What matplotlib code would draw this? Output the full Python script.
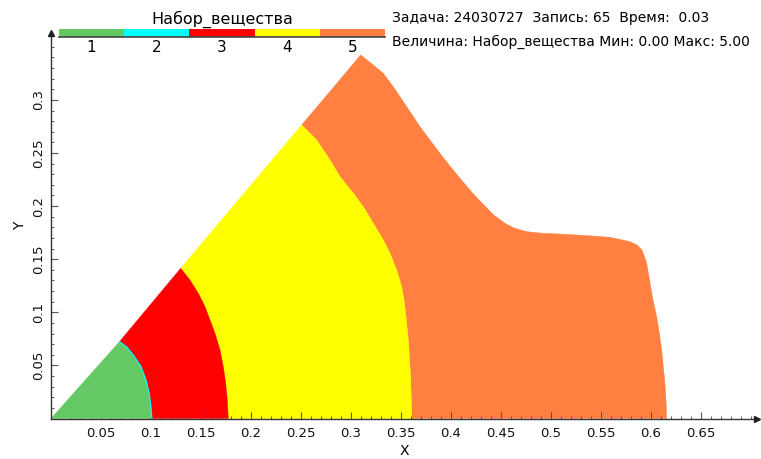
import matplotlib
matplotlib.use("Agg")
import matplotlib.pyplot as plt
from matplotlib.patches import Polygon
from matplotlib.ticker import MultipleLocator

# ---- data ----
materials = ["1", "2", "3", "4", "5"]
material_colors = ["#64C864", "#00FFFF", "#FF0000", "#FFFF00", "#FF8040"]

# boundary of material 1 (green) / 2 (cyan thin layer)
green_x = [0.068, 0.0757, 0.0823, 0.089, 0.094, 0.0973, 0.099, 0.100]
green_y = [0.0718, 0.0661, 0.0582, 0.0488, 0.0363, 0.0237, 0.0111, 0.0]
# boundary of material 3 (red) / 4 (yellow)
red_x = [0.1297, 0.139, 0.1473, 0.154, 0.159, 0.164, 0.169, 0.1723,
         0.1747, 0.1763, 0.1773]
red_y = [0.1414, 0.1304, 0.1179, 0.1053, 0.0927, 0.0802, 0.0645, 0.0488,
         0.0331, 0.0174, 0.0]
# boundary of material 4 (yellow) / 5 (orange)
yellow_x = [0.2507, 0.2657, 0.279, 0.289, 0.3023, 0.3123, 0.3223, 0.3323,
            0.339, 0.3457, 0.3507, 0.353, 0.355, 0.3573, 0.359, 0.360, 0.3607]
yellow_y = [0.2764, 0.2622, 0.2434, 0.2277, 0.2121, 0.1994, 0.1838, 0.1681,
            0.1556, 0.1398, 0.1241, 0.1116, 0.0959, 0.0739, 0.0488, 0.0268, 0.0]
# outer boundary of material 5 (orange)
outer_x = [0.3097, 0.3223, 0.3323, 0.3423, 0.3557, 0.369, 0.379, 0.389,
           0.3998, 0.4104, 0.4216, 0.4319, 0.4428, 0.4535, 0.463, 0.476, 0.492,
           0.509, 0.526, 0.542, 0.559, 0.569, 0.579, 0.586, 0.591, 0.594,
           0.5957, 0.599, 0.602, 0.6057, 0.6083, 0.6107, 0.6123, 0.614,
           0.615, 0.6157]
outer_y = [0.3423, 0.3329, 0.325, 0.3124, 0.2936, 0.2748, 0.2622, 0.2497,
           0.2368, 0.2246, 0.2123, 0.2020, 0.1916, 0.1841, 0.1794, 0.1759,
           0.1744, 0.1737, 0.1728, 0.1718, 0.1706, 0.1687, 0.1665, 0.1634,
           0.1587, 0.1511, 0.1464, 0.1276, 0.1116, 0.0959, 0.0805, 0.0645,
           0.0488, 0.0334, 0.0174, 0.0]

x_ticks = [0.05, 0.1, 0.15, 0.2, 0.25, 0.3, 0.35, 0.4, 0.45, 0.5, 0.55, 0.6, 0.65]
x_tick_labels = ["0.05", "0.1", "0.15", "0.2", "0.25", "0.3", "0.35", "0.4",
                 "0.45", "0.5", "0.55", "0.6", "0.65"]
y_ticks = [0.05, 0.1, 0.15, 0.2, 0.25, 0.3]
y_tick_labels = ["0.05", "0.1", "0.15", "0.2", "0.25", "0.3"]

info_line1 = "Задача: 24030727  Запись: 65  Время:  0.03"
info_line2 = "Величина: Набор_вещества Мин: 0.00 Макс: 5.00"
bar_title = "Набор_вещества"

plt.rcParams['font.family'] = ['DejaVu Sans']

W, H = 761, 459
fig = plt.figure(figsize=(W / 100, H / 100), dpi=100)
ax = fig.add_axes([51 / W, 40.5 / H, 706 / W, 385.5 / H])
ax.set_xlim(0, 0.706)
ax.set_ylim(0, 0.363)


def ring(inner_x, inner_y, outer_bx, outer_by):
    pts = list(zip(outer_bx, outer_by)) + list(zip(inner_x[::-1], inner_y[::-1]))
    return pts


def add(pts, color, z):
    ax.add_patch(Polygon(pts, closed=True, facecolor=color, edgecolor=color,
                         lw=0.3, zorder=z))


add(ring(yellow_x, yellow_y, outer_x, outer_y), material_colors[4], 1)
add(ring(red_x, red_y, yellow_x, yellow_y), material_colors[3], 1)
add(ring(green_x, green_y, red_x, red_y), material_colors[2], 1)
ax.plot(green_x, green_y, color=material_colors[1], lw=2.2, zorder=2,
        solid_capstyle="butt")
add([(0.0, 0.0)] + list(zip(green_x, green_y)), material_colors[0], 3)

# axes styling
for s in ["top", "right"]:
    ax.spines[s].set_visible(False)
for s in ["left", "bottom"]:
    ax.spines[s].set_color("#333333")
    ax.spines[s].set_linewidth(1.0)
    ax.spines[s].set_zorder(6)

ax.set_xticks(x_ticks)
ax.set_xticklabels(x_tick_labels)
ax.set_yticks(y_ticks)
ax.set_yticklabels(y_tick_labels, rotation=90, va="center")
ax.xaxis.set_minor_locator(MultipleLocator(0.01))
ax.yaxis.set_minor_locator(MultipleLocator(0.01))
ax.tick_params(which="major", direction="in", length=5, width=0.8,
               color="#555555", labelsize=9.5, labelcolor="#111111")
ax.tick_params(which="minor", direction="in", length=2.5, width=0.7,
               color="#555555")
ax.tick_params(axis="x", pad=6)
ax.tick_params(axis="y", pad=4)

ax.set_xlabel("X", fontsize=10, labelpad=3)
ax.set_ylabel("Y", fontsize=10, labelpad=4)

# axis arrows
ax.plot([1.0], [0.0], marker=">", color="#222222", markersize=4,
        transform=ax.transAxes, clip_on=False, zorder=7)
ax.plot([0.0], [1.0], marker="^", color="#222222", markersize=4,
        transform=ax.transAxes, clip_on=False, zorder=7)

# colour bar legend at the top
cax = fig.add_axes([59 / W, 1 - 37 / H, 326 / W, 8 / H])
for i, c in enumerate(material_colors):
    cax.axvspan(i, i + 1, color=c, lw=0)
cax.set_xlim(0, len(materials))
cax.set_ylim(0, 1)
cax.set_yticks([])
cax.set_xticks([i + 0.5 for i in range(len(materials))])
cax.set_xticklabels(materials, fontsize=11)
cax.tick_params(axis="x", length=0, pad=2)
for s in ["top", "left", "right"]:
    cax.spines[s].set_visible(False)
cax.spines["bottom"].set_color("#444444")
cax.spines["bottom"].set_linewidth(1.2)

fig.text(222 / W, 1 - 19 / H, bar_title, ha="center", va="center", fontsize=11.5)
fig.text(392 / W, 1 - 18 / H, info_line1, ha="left", va="center", fontsize=10.0)
fig.text(392 / W, 1 - 42 / H, info_line2, ha="left", va="center", fontsize=10.0)

fig.savefig("out.png", dpi=100)
